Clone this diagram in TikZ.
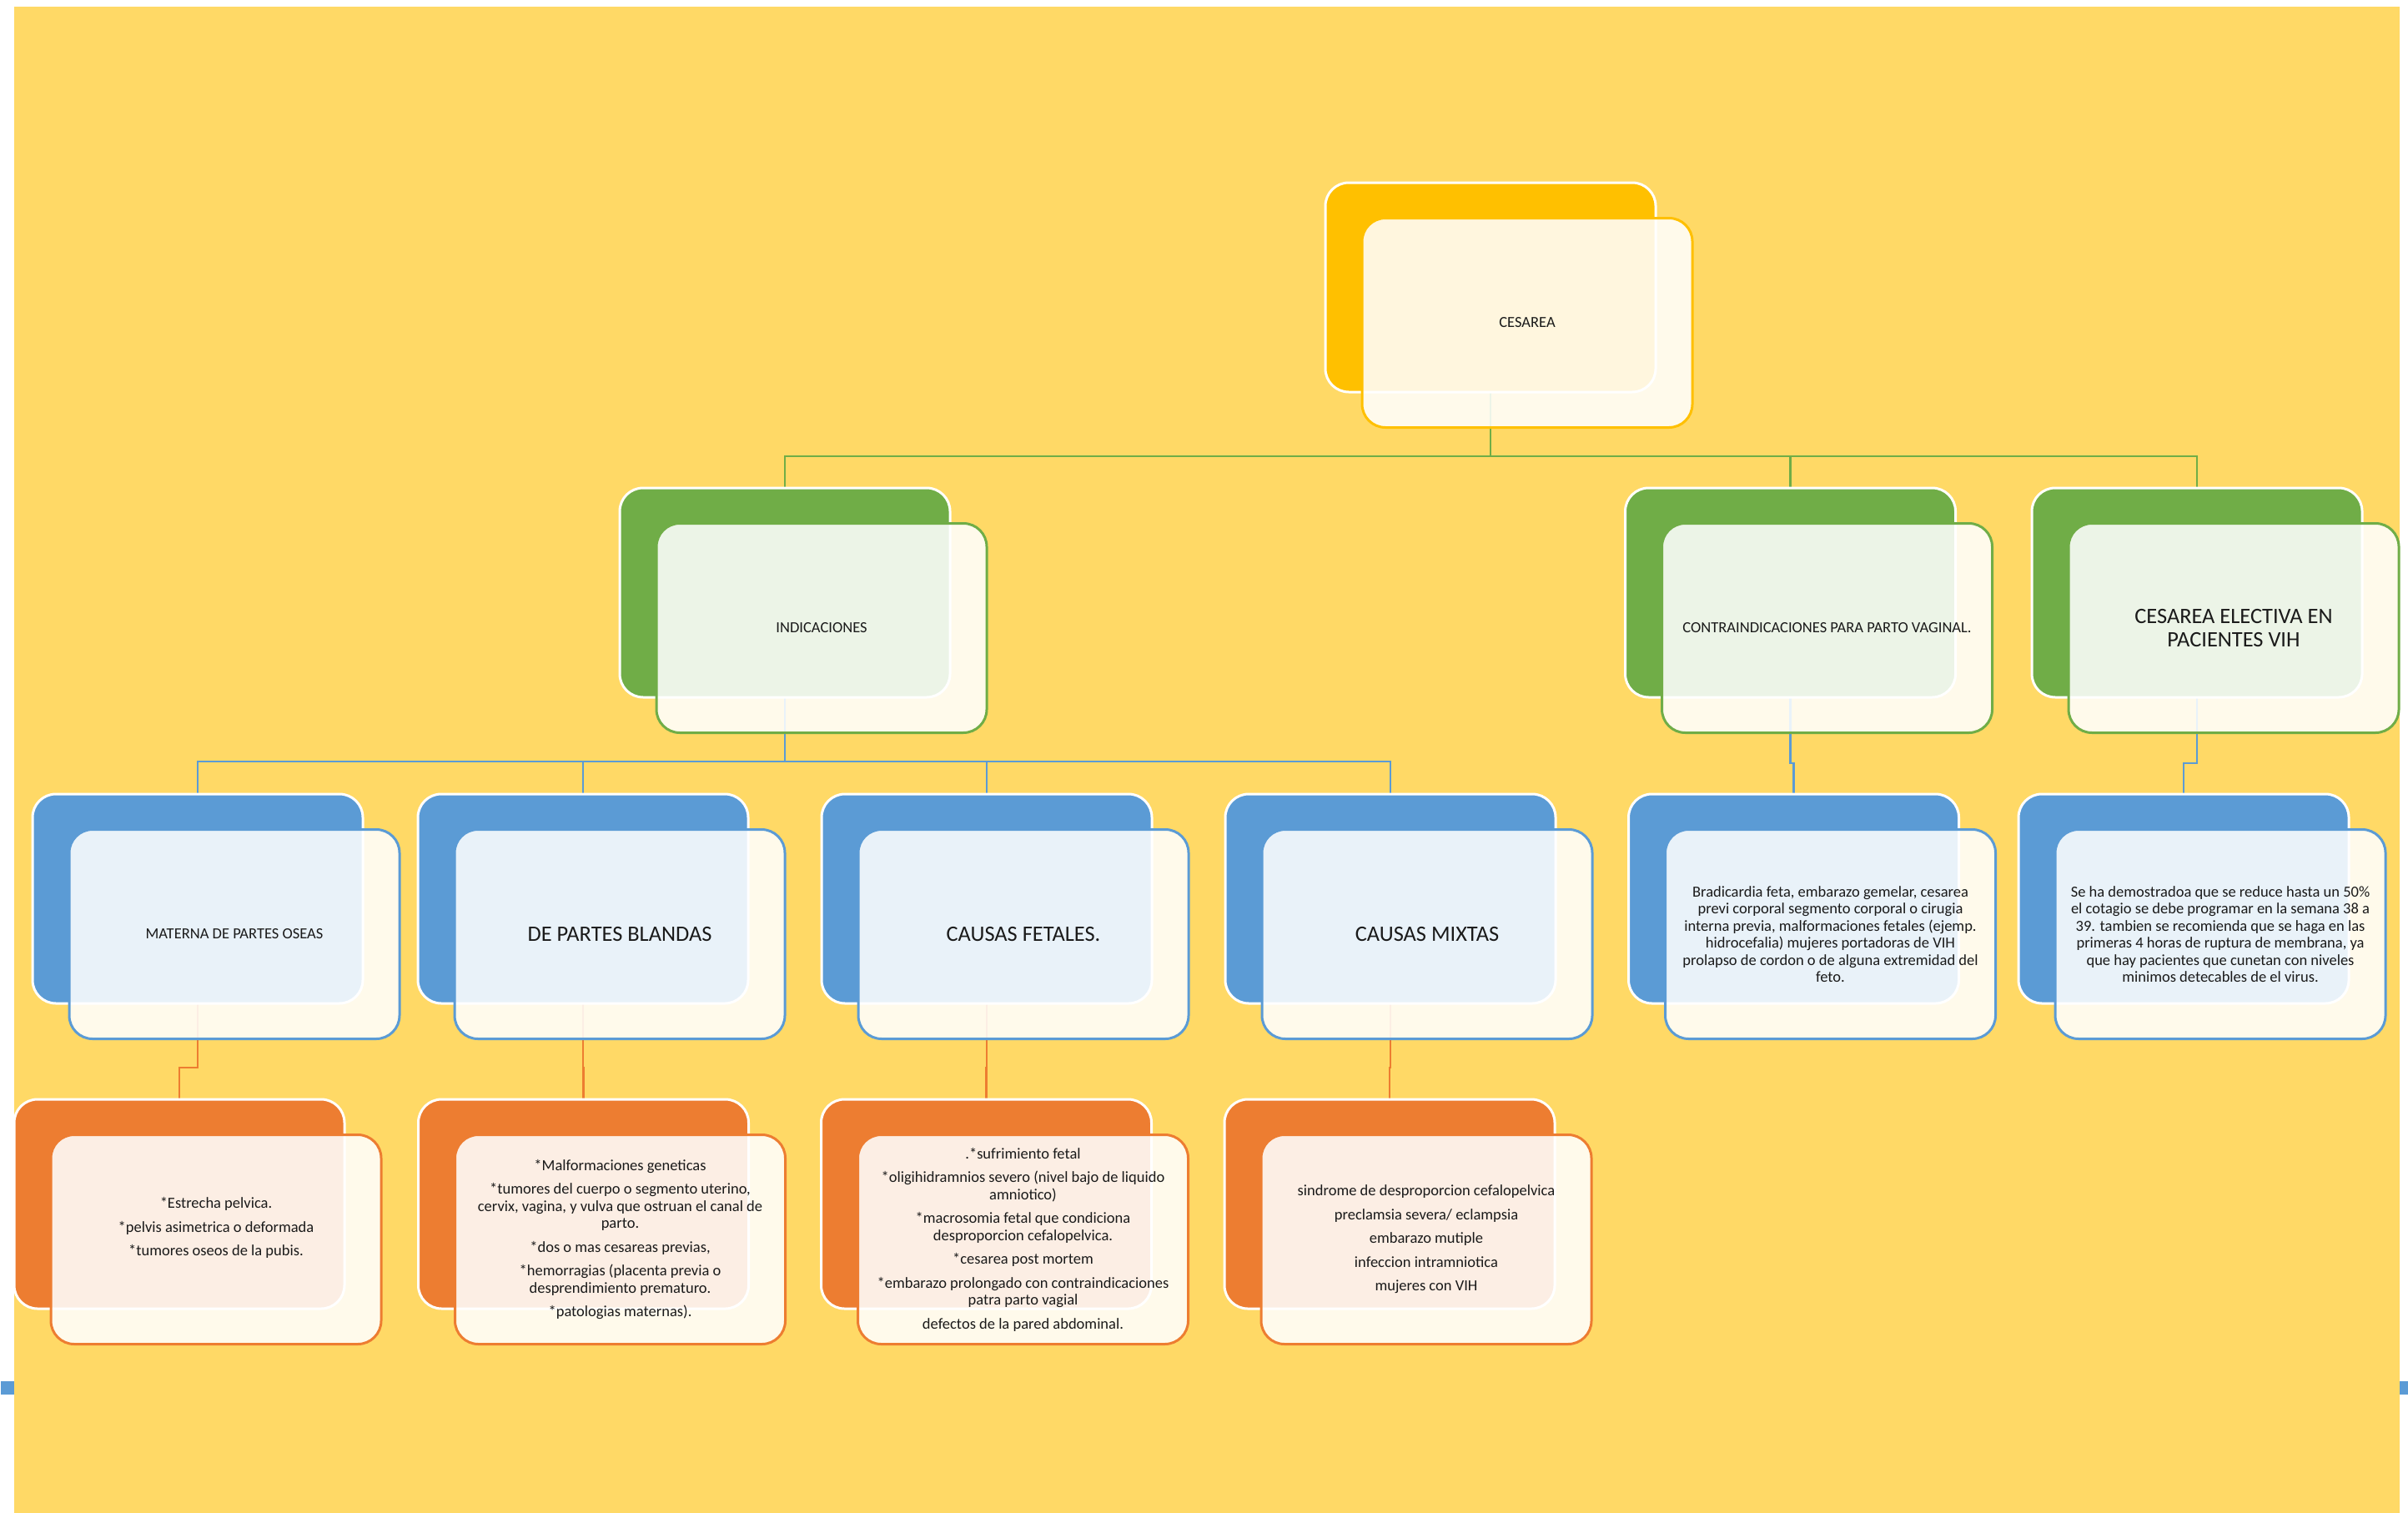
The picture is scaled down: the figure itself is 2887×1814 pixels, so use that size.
\documentclass[tikz,border=0pt]{standalone}
\usepackage{fontspec}
\setmainfont{Carlito}
\usetikzlibrary{calc}
\pgfdeclarelayer{bg}
\pgfsetlayers{bg,main}
\definecolor{bgY}{HTML}{FFD966}
\definecolor{cGold}{HTML}{FFC000}
\definecolor{cGreen}{HTML}{70AD47}
\definecolor{cBlue}{HTML}{5B9BD5}
\definecolor{cOrange}{HTML}{ED7D31}
\definecolor{txt}{HTML}{1A1A1A}
\newcommand\mycard[4]{%
  \node[backbox=#4] (#1) at (#2,#3) {};
  \node[frontbox=#4] (#1-f) at (#2+44,#3+42.5) {};
}
\begin{document}
\begin{tikzpicture}[x=1pt,y=-1pt,
  backbox/.style={draw=white,line width=3pt,rounded corners=28pt,minimum width=396pt,minimum height=251pt,inner sep=0pt,outer sep=0pt,fill=#1},
  frontbox/.style={draw=#1,line width=3pt,rounded corners=28pt,minimum width=396pt,minimum height=251pt,inner sep=0pt,outer sep=0pt,fill=white,fill opacity=0.87},
  lbl/.style={align=center,text=txt,font=\fontsize{18.5}{20.5}\selectfont,inner sep=0pt},
  big/.style={align=center,text=txt,font=\fontsize{26.4}{28}\selectfont,inner sep=0pt},
  link/.style={draw=#1,line width=2.5pt},
]
\useasboundingbox (0,0) rectangle (2887,1814);
% level 1
\mycard{ces}{1787}{344.5}{cGold}
% level 2
\mycard{ind}{941}{710.5}{cGreen}
\mycard{con}{2146.5}{710.5}{cGreen}
\mycard{vih}{2634}{710.5}{cGreen}
% level 3
\mycard{mat}{237}{1077.5}{cBlue}
\mycard{bla}{699}{1077.5}{cBlue}
\mycard{fet}{1183}{1077.5}{cBlue}
\mycard{mix}{1667}{1077.5}{cBlue}
\mycard{conc}{2150.5}{1077.5}{cBlue}
\mycard{vihc}{2618}{1077.5}{cBlue}
% level 4
\mycard{matc}{215}{1443.5}{cOrange}
\mycard{blac}{699.5}{1443.5}{cOrange}
\mycard{fetc}{1182.5}{1443.5}{cOrange}
\mycard{mixc}{1666}{1443.5}{cOrange}

% texts
\node[lbl] (t-ces) at (ces-f) {CESAREA};
\node[lbl] (t-ind) at (ind-f) {INDICACIONES};
\node[lbl] (t-con) at (con-f) {CONTRAINDICACIONES PARA PARTO VAGINAL.};
\node[big] (t-vih) at (vih-f) {CESAREA ELECTIVA EN\\PACIENTES VIH};
\node[lbl] (t-mat) at (mat-f) {MATERNA DE PARTES OSEAS};
\node[big] (t-bla) at (bla-f) {DE PARTES BLANDAS};
\node[big] (t-fet) at (fet-f) {CAUSAS FETALES.};
\node[big] (t-mix) at (mix-f) {CAUSAS MIXTAS};
\node[lbl] (t-conc) at (conc-f) {Bradicardia feta, embarazo gemelar, cesarea\\previ corporal segmento corporal o cirugia\\interna previa, malformaciones fetales (ejemp.\\hidrocefalia) mujeres portadoras de VIH\\prolapso de cordon o de alguna extremidad del\\feto.};
\node[lbl] (t-vihc) at (vihc-f) {Se ha demostradoa que se reduce hasta un 50\%\\el cotagio se debe programar en la semana 38 a\\39. tambien se recomienda que se haga en las\\primeras 4 horas de ruptura de membrana, ya\\que hay pacientes que cunetan con niveles\\minimos detecables de el virus.};
\node[lbl] (t-matc) at ($(matc-f)+(0,-14)$) {*Estrecha pelvica.\\[8pt]*pelvis asimetrica o deformada\\[8pt]*tumores oseos de la pubis.};
\node[lbl] (t-blac) at (blac-f) {*Malformaciones geneticas\\[8pt]*tumores del cuerpo o segmento uterino,\\cervix, vagina, y vulva que ostruan el canal de\\parto.\\[8pt]*dos o mas cesareas previas,\\[8pt]*hemorragias (placenta previa o\\desprendimiento prematuro.\\[8pt]*patologias maternas).};
\node[lbl] (t-fetc) at (fetc-f) {.*sufrimiento fetal\\[8pt]*oligihidramnios severo (nivel bajo de liquido\\amniotico)\\[8pt]*macrosomia fetal que condiciona\\desproporcion cefalopelvica.\\[8pt]*cesarea post mortem\\[8pt]*embarazo prolongado con contraindicaciones\\patra parto vagial\\[8pt]defectos de la pared abdominal.};
\node[lbl] (t-mixc) at (mixc-f) {sindrome de desproporcion cefalopelvica\\[8pt]preclamsia severa/ eclampsia\\[8pt]embarazo mutiple\\[8pt]infeccion intramniotica\\[8pt]mujeres con VIH};

\begin{pgfonlayer}{bg}
\fill[bgY] (17,8) rectangle (2877,1814);
\fill[cBlue] (1,1656) rectangle (17,1672);
\fill[cBlue] (2877,1656) rectangle (2887,1672);
\coordinate (busG) at (0,547);
\coordinate (busB) at (0,913);
\coordinate (busC) at (0,915);
\coordinate (busO) at (0,1280);
\draw[link=cGreen] (ces.south) -- (ces.south |- busG) -| (ind.north);
\draw[link=cGreen] (ces.south) -- (ces.south |- busG) -| (con.north);
\draw[link=cGreen] (ces.south) -- (ces.south |- busG) -| (vih.north);
\draw[link=cBlue] (ind.south) -- (ind.south |- busB) -| (mat.north);
\draw[link=cBlue] (ind.south) -- (ind.south |- busB) -| (bla.north);
\draw[link=cBlue] (ind.south) -- (ind.south |- busB) -| (fet.north);
\draw[link=cBlue] (ind.south) -- (ind.south |- busB) -| (mix.north);
\draw[link=cBlue] (con.south) -- (con.south |- busC) -| (conc.north);
\draw[link=cBlue] (vih.south) -- (vih.south |- busC) -| (vihc.north);
\draw[link=cOrange] (mat.south) -- (mat.south |- busO) -| (matc.north);
\draw[link=cOrange] (bla.south) -- (bla.south |- busO) -| (blac.north);
\draw[link=cOrange] (fet.south) -- (fet.south |- busO) -| (fetc.north);
\draw[link=cOrange] (mix.south) -- (mix.south |- busO) -| (mixc.north);
\end{pgfonlayer}
\end{tikzpicture}
\end{document}
